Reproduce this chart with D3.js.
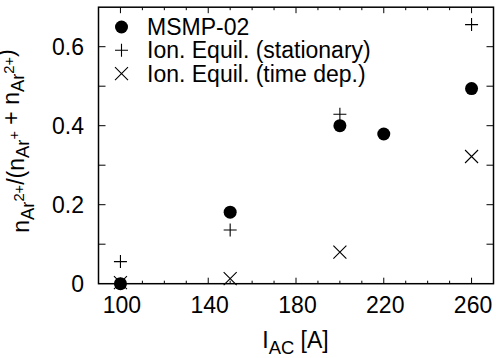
<!DOCTYPE html>
<html><head><meta charset="utf-8">
<script src="https://cdn.jsdelivr.net/npm/d3@7"></script>
<style>body{margin:0;background:#fff}svg{display:block}text{font-family:"Liberation Sans",Arial,sans-serif;fill:#000}</style>
</head><body><svg id="c" width="496" height="358"></svg>
<script>
const current = [100, 150, 200, 220, 260];
const msmp = [0.0, 0.181, 0.400, 0.379, 0.494];
const statCurrent = [100, 150, 200, 260];
const stationary = [0.056, 0.136, 0.429, 0.656];
const timeCurrent = [100, 150, 200, 260];
const timeDep = [0.003, 0.013, 0.080, 0.322];
const xTickLabels = [100, 140, 180, 220, 260];
const yTickLabels = [0, 0.2, 0.4, 0.6];
const legendLabels = ["MSMP-02", "Ion. Equil. (stationary)", "Ion. Equil. (time dep.)"];

const svg = d3.select("#c");
const m = {l: 98.5, r: 493.5, t: 7.2, b: 283.7};
const x = d3.scaleLinear().domain([90, 270]).range([m.l, m.r]);
const y = d3.scaleLinear().domain([0, 0.7]).range([m.b, m.t]);
const FS = 23, SUB = 18.4, SUP = 14.7;

const g = svg.append("g").attr("stroke", "#000").attr("stroke-width", 1);
d3.range(100, 270, 10).forEach(v => {
  const major = xTickLabels.includes(v);
  const L = major ? 6 : 3;
  g.append("line").attr("x1", x(v)).attr("x2", x(v)).attr("y1", m.b).attr("y2", m.b - L);
  g.append("line").attr("x1", x(v)).attr("x2", x(v)).attr("y1", m.t).attr("y2", m.t + L);
});
d3.range(1, 7).map(i => i / 10).forEach(v => {
  g.append("line").attr("x1", m.l).attr("x2", m.l + 7).attr("y1", y(v)).attr("y2", y(v));
  g.append("line").attr("x1", m.r).attr("x2", m.r - 7).attr("y1", y(v)).attr("y2", y(v));
});
svg.append("rect").attr("x", m.l).attr("y", m.t).attr("width", m.r - m.l).attr("height", m.b - m.t)
  .attr("fill", "none").attr("stroke", "#000").attr("stroke-width", 1.5);

svg.selectAll(".xt").data(xTickLabels).enter().append("text")
  .attr("x", d => x(d) + 1.5).attr("y", 313).attr("text-anchor", "middle")
  .attr("font-size", FS).text(d => d);
svg.selectAll(".yt").data(yTickLabels).enter().append("text")
  .attr("x", 84).attr("y", d => y(d) + 8).attr("text-anchor", "end")
  .attr("font-size", FS).text(d => d === 0 ? "0" : d.toFixed(1));

const xl = svg.append("text").attr("x", 295.5).attr("y", 348).attr("text-anchor", "middle").attr("font-size", FS);
xl.append("tspan").text("I");
xl.append("tspan").attr("font-size", SUB).attr("dy", 6).text("AC");
xl.append("tspan").attr("dy", -6).text(" [A]");

const yl = svg.append("text").attr("transform", "translate(28.5,141) rotate(-90)")
  .attr("text-anchor", "middle").attr("font-size", FS);
function nAr(sup) {
  yl.append("tspan").text("n");
  yl.append("tspan").attr("font-size", SUB).attr("dy", 5).text("Ar");
  yl.append("tspan").attr("font-size", SUP).attr("dy", -10).text(sup);
  yl.append("tspan").attr("dy", 5).text("");
}
nAr("2+");
yl.append("tspan").text("/(");
nAr("+");
yl.append("tspan").text(" + ");
nAr("2+");
yl.append("tspan").text(")");

const R = 6.5, P = 6.5, X = 6.5;
function circle(sel, cx, cy) { sel.append("circle").attr("cx", cx).attr("cy", cy).attr("r", R).attr("fill", "#000"); }
function plus(sel, cx, cy) {
  sel.append("path").attr("d", `M${cx - P},${cy}H${cx + P}M${cx},${cy - P}V${cy + P}`)
    .attr("stroke", "#000").attr("stroke-width", 1.1).attr("fill", "none");
}
function cross(sel, cx, cy) {
  sel.append("path").attr("d", `M${cx - X},${cy - X}L${cx + X},${cy + X}M${cx - X},${cy + X}L${cx + X},${cy - X}`)
    .attr("stroke", "#000").attr("stroke-width", 1.1).attr("fill", "none");
}
const pts = svg.append("g");
current.forEach((c, i) => circle(pts, x(c), y(msmp[i])));
statCurrent.forEach((c, i) => plus(pts, x(c), y(stationary[i])));
timeCurrent.forEach((c, i) => cross(pts, x(c), y(timeDep[i])));

const lg = svg.append("g");
const markers = [circle, plus, cross];
legendLabels.forEach((t, i) => {
  const by = 35 + i * 23.3;
  markers[i](lg, 121.5, by - 8);
  lg.append("text").attr("x", 147).attr("y", by).attr("font-size", FS).text(t);
});
</script></body></html>
